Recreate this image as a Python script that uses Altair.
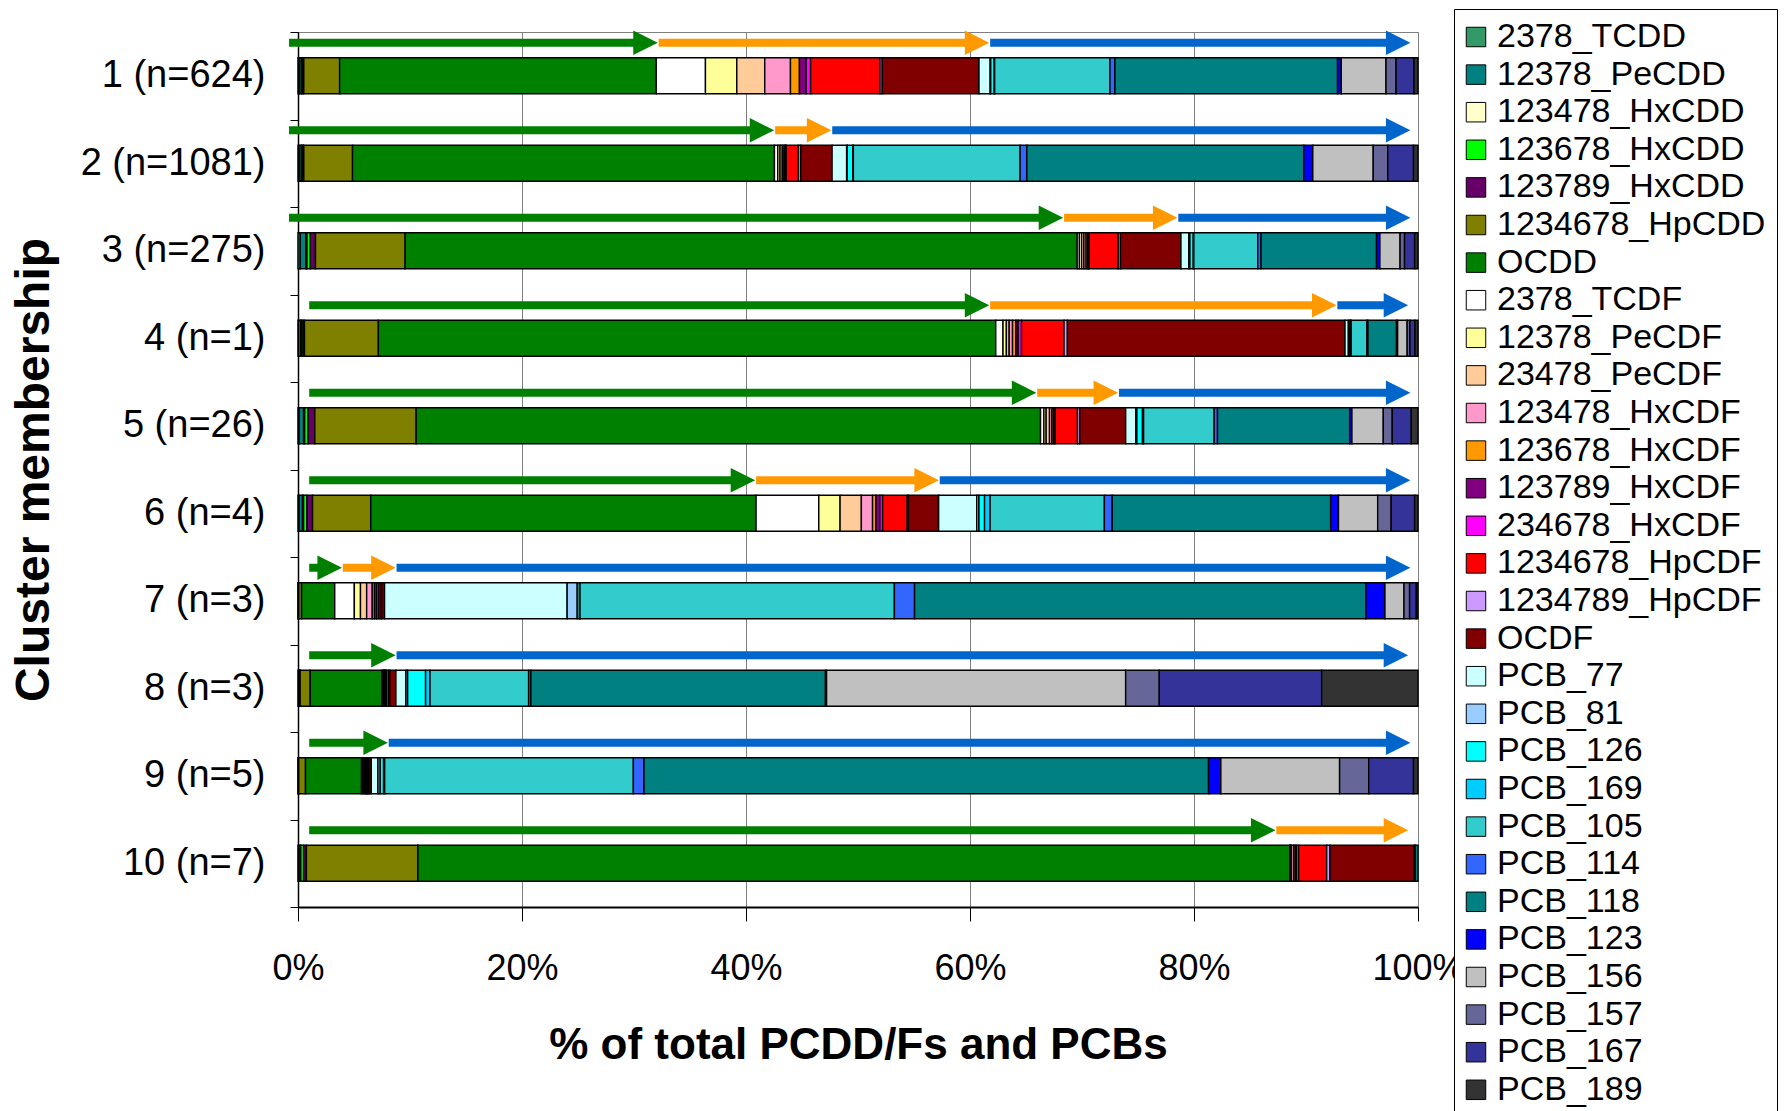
import altair as alt
import pandas as pd

clusters = ["1 (n=624)", "2 (n=1081)", "3 (n=275)", "4 (n=1)", "5 (n=26)",
            "6 (n=4)", "7 (n=3)", "8 (n=3)", "9 (n=5)", "10 (n=7)"]

congeners = ["2378_TCDD", "12378_PeCDD", "123478_HxCDD", "123678_HxCDD", "123789_HxCDD",
             "1234678_HpCDD", "OCDD", "2378_TCDF", "12378_PeCDF", "23478_PeCDF",
             "123478_HxCDF", "123678_HxCDF", "123789_HxCDF", "234678_HxCDF",
             "1234678_HpCDF", "1234789_HpCDF", "OCDF", "PCB_77", "PCB_81", "PCB_126",
             "PCB_169", "PCB_105", "PCB_114", "PCB_118", "PCB_123", "PCB_156",
             "PCB_157", "PCB_167", "PCB_189"]

colors = ["#339966", "#008080", "#FFFFCC", "#00FF00", "#660066",
          "#808000", "#008000", "#FFFFFF", "#FFFF99", "#FFCC99",
          "#FF99CC", "#FF9900", "#800080", "#FF00FF",
          "#FF0000", "#CC99FF", "#800000", "#CCFFFF", "#99CCFF", "#00FFFF",
          "#00CCFF", "#33CCCC", "#3366FF", "#008080", "#0000FF", "#C0C0C0",
          "#666699", "#333399", "#333333"]

bar_1 = [0.1, 0.2, 0.05, 0.1, 0.07, 3.2, 28.3, 4.4, 2.8, 2.5, 2.3, 0.8, 0.6, 0.4,
         6.2, 0.2, 8.65, 1.0, 0.05, 0.3, 0.05, 10.3, 0.45, 19.9, 0.33, 4.0, 0.9, 1.6, 0.36]
bar_2 = [0.1, 0.2, 0.05, 0.1, 0.07, 4.35, 37.7, 0.3, 0.2, 0.2, 0.15, 0.1, 0.05, 0.05,
         1.1, 0.2, 2.8, 1.3, 0.05, 0.5, 0.05, 14.9, 0.6, 24.75, 0.8, 5.4, 1.3, 2.3, 0.4]
bar_3 = [0.2, 0.5, 0.1, 0.3, 0.46, 8.0, 59.96, 0.2, 0.2, 0.2, 0.2, 0.15, 0.05, 0.06,
         2.6, 0.2, 5.4, 0.7, 0.1, 0.3, 0.05, 5.7, 0.3, 10.3, 0.3, 1.8, 0.4, 0.9, 0.3]
bar_4 = [0.05, 0.2, 0.05, 0.15, 0.13, 6.6, 55.15, 0.65, 0.3, 0.25, 0.3, 0.3, 0.2, 0.3,
         3.8, 0.3, 24.8, 0.3, 0.1, 0.1, 0.05, 1.4, 0.1, 2.55, 0.1, 0.85, 0.25, 0.45, 0.27]
bar_5 = [0.1, 0.4, 0.1, 0.3, 0.6, 9.05, 55.75, 0.3, 0.2, 0.3, 0.2, 0.15, 0.05, 0.1,
         2.0, 0.2, 4.1, 0.9, 0.1, 0.5, 0.1, 6.3, 0.3, 11.8, 0.2, 2.8, 0.8, 1.7, 0.6]
bar_6 = [0.1, 0.3, 0.1, 0.3, 0.5, 5.2, 34.4, 5.6, 1.9, 1.9, 1.0, 0.3, 0.35, 0.25,
         2.2, 0.1, 2.7, 3.4, 0.2, 0.5, 0.5, 10.2, 0.7, 19.5, 0.7, 3.5, 1.2, 2.1, 0.3]
bar_7 = [0.02, 0.02, 0.01, 0.01, 0.01, 0.25, 2.96, 1.75, 0.55, 0.55, 0.5, 0.2, 0.2, 0.2,
         0.2, 0.05, 0.25, 16.3, 0.9, 0.2, 0.05, 28.07, 1.8, 40.3, 1.7, 1.7, 0.5, 0.6, 0.15]
bar_8 = [0.05, 0.05, 0.03, 0.03, 0.03, 0.9, 6.4, 0.1, 0.05, 0.05, 0.05, 0.05, 0.05, 0.05,
         0.2, 0.1, 0.55, 0.9, 0.15, 1.6, 0.4, 8.8, 0.2, 26.3, 0.1, 26.7, 3.0, 14.5, 8.6]
bar_9 = [0.02, 0.02, 0.01, 0.01, 0.01, 0.6, 5.0, 0.1, 0.1, 0.1, 0.1, 0.05, 0.05, 0.05,
         0.1, 0.02, 0.2, 0.6, 0.2, 0.3, 0.1, 22.2, 0.95, 50.4, 1.1, 10.6, 2.6, 4.0, 0.4]
bar_10 = [0.05, 0.15, 0.05, 0.25, 0.25, 9.95, 77.8, 0.05, 0.05, 0.05, 0.2, 0.15, 0.1, 0.2,
          2.5, 0.3, 7.5, 0.05, 0, 0, 0, 0.05, 0, 0.25, 0, 0, 0, 0, 0]

bars = [bar_1, bar_2, bar_3, bar_4, bar_5, bar_6, bar_7, bar_8, bar_9, bar_10]

# arrow spans (in % of total)
green_start = [-0.8, -0.8, -0.8, 1.0, 1.0, 1.0, 1.0, 1.0, 1.0, 1.0]
green_end = [32.1, 42.5, 68.3, 61.7, 65.9, 40.8, 3.9, 8.7, 8.0, 87.25]
orange_end = [61.7, 47.6, 78.5, 92.7, 73.2, 57.2, 8.7, None, None, 99.1]
blue_end = [99.3, 99.3, 99.3, 99.1, 99.3, 99.3, 99.3, 99.1, 99.3, None]

arrow_colors = {"green": "#008000", "orange": "#FF9900", "blue": "#0066CC"}

rows = []
for cl, vals in zip(clusters, bars):
    total = sum(vals)
    for k, (name, v) in enumerate(zip(congeners, vals)):
        if v > 0:
            rows.append({"cluster": cl, "congener": name, "value": v / total * 100, "order": k})
df = pd.DataFrame(rows)

arows = []
for i, cl in enumerate(clusters):
    arows.append({"cluster": cl, "start": green_start[i], "end": green_end[i],
                  "color": arrow_colors["green"]})
    prev = green_end[i]
    if orange_end[i] is not None:
        arows.append({"cluster": cl, "start": prev + 0.1, "end": orange_end[i],
                      "color": arrow_colors["orange"]})
        prev = orange_end[i]
    if blue_end[i] is not None:
        arows.append({"cluster": cl, "start": prev + 0.1, "end": blue_end[i],
                      "color": arrow_colors["blue"]})
adf = pd.DataFrame(arows)

FONT = "Liberation Sans"

xscale = alt.Scale(domain=[0, 100], nice=False)
yscale = alt.Scale(type="band", domain=clusters, paddingInner=0, paddingOuter=0)

x_axis = alt.Axis(values=[0, 20, 40, 60, 80, 100], labelExpr="datum.value + '%'",
                  labelFlush=False,
                  grid=True, gridColor="#808080", gridWidth=1,
                  tickColor="black", tickSize=14, domainColor="black", domainWidth=2,
                  labelFontSize=36, labelPadding=30, labelColor="black", labelFont=FONT,
                  title="% of total PCDD/Fs and PCBs", titleFontSize=44, titleFont=FONT,
                  titleFontWeight="bold", titleColor="black",
                  titleX=560, titleY=138, titleBaseline="middle", titleAlign="center")
y_axis = alt.Axis(tickBand="extent", tickColor="black", tickSize=8, domainColor="black",
                  domainWidth=1.5, labelFontSize=38, labelPadding=25, labelColor="black",
                  labelFont=FONT, labelLimit=400, grid=False,
                  title="Cluster membership", titleFontSize=48, titleFont=FONT,
                  titleFontWeight="bold", titleColor="black", titleAngle=270,
                  titleX=-264, titleY=437.5, titleBaseline="middle", titleAlign="center")

bars_layer = alt.Chart(df).mark_bar(stroke="black", strokeWidth=1.4, size=36).encode(
    x=alt.X("value:Q", stack="zero", scale=xscale, axis=x_axis),
    y=alt.Y("cluster:N", sort=clusters, scale=yscale, axis=y_axis),
    color=alt.Color("congener:N", sort=congeners,
                    scale=alt.Scale(domain=congeners, range=colors),
                    legend=alt.Legend(orient="none", legendX=1156, legendY=-23, title=None,
                                      labelFontSize=34, labelFont=FONT, labelColor="black",
                                      symbolType="square", symbolSize=380,
                                      symbolStrokeColor="black", symbolStrokeWidth=1,
                                      rowPadding=3.6, padding=11, symbolOffset=-6,
                                      strokeColor="black",
                                      labelOffset=4, labelLimit=400, fillColor="white")),
    order=alt.Order("order:Q", sort="ascending"),
)

shafts = alt.Chart(adf).mark_rule(strokeWidth=8, yOffset=-33, x2Offset=-20).encode(
    x=alt.X("start:Q", scale=xscale),
    x2="end:Q",
    y=alt.Y("cluster:N", sort=clusters, scale=yscale),
    color=alt.Color("color:N", scale=None),
)

heads = alt.Chart(adf).mark_point(shape="M -1 -1 L 1 0 L -1 1 Z", size=600, filled=True,
                                  opacity=1, strokeWidth=0, xOffset=-12, yOffset=-33).encode(
    x=alt.X("end:Q", scale=xscale),
    y=alt.Y("cluster:N", sort=clusters, scale=yscale),
    color=alt.Color("color:N", scale=None),
)

chart = alt.layer(bars_layer, shafts, heads).properties(
    width=1120, height=875,
    autosize=alt.AutoSizeParams(type="none"),
    padding={"left": 298, "top": 32, "right": 366, "bottom": 204},
    background="white",
).configure_view(stroke="#808080", strokeWidth=1)

chart.save("out.html", embed_options={"renderer": "svg", "actions": False})
